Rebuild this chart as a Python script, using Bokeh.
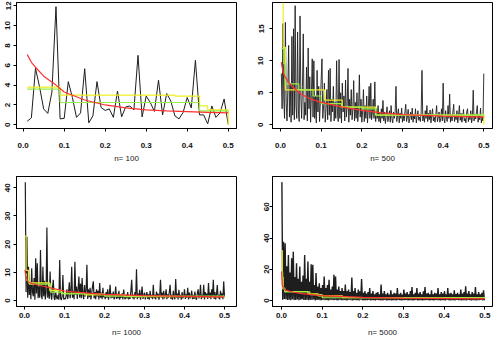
import numpy as np
from bokeh.plotting import figure
from bokeh.layouts import gridplot
from bokeh.models import FixedTicker, Range1d, BoxAnnotation
from bokeh.embed import file_html
from bokeh.resources import INLINE

# ---------------- data ----------------
panel_labels = ["n= 100", "n= 500", "n= 1000", "n= 5000"]
x_ticks = [0.0, 0.1, 0.2, 0.3, 0.4, 0.5]
x_tick_labels = ["0.0", "0.1", "0.2", "0.3", "0.4", "0.5"]
y_ticks_1 = [0, 2, 4, 6, 8, 10, 12]
y_ticks_2 = [0, 5, 10, 15]
y_ticks_3 = [0, 10, 20, 30, 40]
y_ticks_4 = [0, 20, 40, 60]

# n = 100 : periodogram at frequencies 0.01 .. 0.50
pgram_100 = [0.37, 0.7, 5.7, 3.8, 1.6, 1.15, 3.3, 11.9, 0.6, 0.65,
             4.35, 2.75, 0.75, 1.2, 5.65, 0.2, 0.9, 4.35, 1.75, 1.45,
             1.6, 0.75, 3.4, 0.8, 1.8, 1.9, 1.5, 7.0, 0.8, 2.9,
             2.25, 1.35, 4.5, 1.0, 3.15, 2.4, 0.9, 0.6, 1.25, 2.75,
             1.7, 6.5, 1.0, 1.0, 0.1, 1.9, 0.75, 1.2, 2.6, 0.05]
red_f_1 = [0.01, 0.02, 0.03, 0.05, 0.08, 0.10, 0.15, 0.20, 0.25, 0.30, 0.35, 0.40, 0.45, 0.50]
red_v_1 = [7.07, 6.3, 5.8, 4.9, 4.0, 3.3, 2.5, 2.0, 1.7, 1.5, 1.4, 1.33, 1.26, 1.2]
yel_f_1 = [0.01, 0.09, 0.37, 0.43, 0.45, 0.50]
yel_v_1 = [3.8, 3.0, 2.9, 1.9, 1.5, 0.0]
grn_f_1 = [0.01, 0.09, 0.43, 0.50]
grn_v_1 = [3.6, 2.25, 1.4, 1.35]

# n = 500 : periodogram at frequencies 0.002 .. 0.500
pgram_500 = [
    8.0, 2.5, 15.8, 4.0, 1.0, 16.0, 3.5, 0.6, 5.5, 12.4,
    1.2, 6.5, 0.4, 13.8, 1.5, 15.0, 0.8, 18.6, 3.0, 1.0,
    14.5, 2.0, 0.5, 17.0, 4.5, 1.0, 6.0, 14.2, 0.8, 3.5,
    1.5, 9.0, 0.6, 12.0, 2.5, 7.5, 0.4, 5.0, 10.3, 1.2,
    10.0, 1.0, 4.5, 0.3, 8.5, 2.0, 6.0, 0.5, 3.5, 7.0,
    10.3, 1.0, 3.0, 6.5, 0.4, 2.5, 5.5, 0.8, 8.5, 1.5,
    8.8, 0.5, 4.0, 2.0, 6.0, 0.6, 3.5, 1.0, 10.0, 2.0,
    0.5, 10.2, 1.0, 5.0, 0.3, 6.5, 2.0, 4.5, 0.6, 7.0,
    1.2, 3.0, 8.8, 0.4, 4.0, 1.5, 5.5, 0.8, 2.5, 6.9,
    0.6, 3.5, 1.0, 5.0, 0.5, 2.5, 7.8, 1.2, 4.0, 0.4,
    2.0, 5.5, 0.5, 3.0, 1.0, 4.5, 0.3, 2.5, 6.0, 1.0,
    6.5, 0.8, 2.0, 4.0, 1.0, 6.7, 0.5, 2.5, 1.0, 3.0,
    0.5, 1.8, 0.3, 2.5, 1.0, 3.8, 0.6, 2.0, 0.2, 1.5,
    2.8, 0.5, 1.2, 2.2, 0.4, 3.0, 1.0, 0.3, 2.0, 1.0,
    2.0, 6.0, 0.5, 1.5, 2.5, 0.3, 1.8, 1.0, 2.6, 0.4,
    1.5, 0.6, 2.0, 3.2, 0.5, 1.2, 2.4, 0.3, 1.0, 2.0,
    0.8, 2.6, 0.4, 1.6, 0.9, 2.5, 0.3, 1.4, 2.2, 0.7,
    1.2, 0.5, 2.0, 8.5, 0.6, 1.5, 0.4, 2.2, 1.0, 3.0,
    0.5, 1.8, 0.8, 2.3, 0.3, 1.5, 2.5, 0.6, 1.2, 0.4,
    1.6, 3.0, 0.5, 1.2, 2.0, 0.4, 1.0, 2.5, 0.6, 6.5,
    1.0, 0.3, 2.2, 1.2, 0.5, 3.0, 1.0, 4.8, 0.4, 1.6,
    0.6, 2.0, 3.2, 0.5, 1.4, 0.8, 2.2, 0.3, 1.5, 3.0,
    0.7, 1.8, 0.4, 1.2, 2.4, 0.6, 1.0, 0.3, 2.0, 2.5,
    0.5, 1.5, 0.8, 2.2, 0.3, 1.2, 5.4, 0.6, 1.6, 0.9,
    2.0, 3.0, 0.4, 1.5, 0.8, 2.6, 0.3, 1.2, 0.6, 8.0]
red_f_2 = [0.002, 0.005, 0.01, 0.02, 0.03, 0.05, 0.075, 0.10, 0.15, 0.20, 0.25, 0.30, 0.40, 0.50]
red_v_2 = [9.8, 8.6, 7.6, 6.6, 5.9, 4.8, 4.0, 3.5, 2.8, 2.25, 1.85, 1.6, 1.35, 1.2]
yel_f_2 = [0.002, 0.0066, 0.012, 0.108, 0.152, 0.234, 0.50]
yel_v_2 = [22.0, 12.1, 5.45, 3.85, 2.75, 1.5, 0.0]
grn_f_2 = [0.002, 0.008, 0.012, 0.045, 0.08, 0.10, 0.15, 0.20, 0.235, 0.50]
grn_v_2 = [11.9, 9.5, 6.4, 5.45, 4.5, 3.3, 2.75, 2.5, 1.5, 1.4]

# n = 1000 : periodogram read every 0.002 in frequency
pgram_1000 = [
    42.0, 3.0, 22.6, 1.0, 12.0, 2.0, 6.0, 0.5, 11.5, 3.0,
    1.5, 8.0, 0.3, 15.0, 2.5, 13.2, 0.8, 5.0, 1.0, 17.9,
    2.0, 0.5, 12.0, 1.5, 7.0, 0.4, 3.0, 25.9, 1.0, 5.0,
    0.6, 10.3, 2.0, 0.3, 4.5, 7.4, 1.0, 0.2, 3.0, 1.2,
    0.5, 2.0, 0.3, 14.4, 1.0, 0.2, 1.5, 9.1, 0.4, 0.8,
    0.5, 1.5, 4.0, 0.6, 2.5, 6.5, 0.8, 3.0, 12.0, 1.0,
    3.5, 0.5, 13.8, 2.0, 5.0, 0.6, 4.0, 8.5, 1.0, 6.0,
    0.8, 8.0, 2.0, 0.5, 5.5, 1.5, 3.5, 12.7, 0.6, 4.0,
    1.2, 4.5, 0.4, 2.5, 5.0, 6.8, 0.8, 3.0, 0.5, 4.0,
    1.5, 3.5, 0.4, 6.2, 1.0, 2.8, 0.5, 4.5, 1.2, 2.0,
    0.5, 3.0, 1.0, 4.0, 0.3, 2.2, 5.6, 0.8, 2.5, 1.0,
    3.2, 0.4, 1.5, 5.0, 0.6, 2.4, 0.8, 3.5, 0.3, 2.0,
    1.0, 2.6, 0.4, 3.9, 1.2, 0.5, 2.0, 0.8, 3.0, 0.4,
    1.5, 0.6, 3.5, 7.4, 0.8, 2.0, 0.4, 3.0, 1.0, 11.1,
    0.5, 2.5, 1.0, 3.8, 0.3, 2.2, 5.0, 0.6, 1.5, 2.8,
    0.4, 1.8, 3.0, 0.6, 2.2, 0.3, 3.5, 1.0, 2.0, 0.5,
    5.6, 0.8, 2.0, 0.4, 3.2, 1.0, 2.5, 0.3, 1.5, 7.4,
    1.0, 2.8, 0.4, 3.5, 0.8, 1.6, 4.0, 0.5, 2.2, 1.0,
    3.0, 5.6, 0.6, 2.0, 0.3, 3.5, 1.2, 0.5, 7.6, 1.0,
    2.5, 0.4, 3.8, 1.0, 2.0, 0.3, 3.0, 0.8, 1.5, 4.0,
    0.6, 2.2, 1.0, 4.5, 0.4, 2.8, 0.8, 1.5, 3.5, 0.5,
    2.0, 0.6, 3.2, 1.0, 0.3, 2.5, 4.0, 0.8, 1.6, 5.6,
    0.5, 2.0, 1.0, 5.6, 0.4, 3.0, 1.2, 2.5, 0.6, 6.2,
    1.0, 2.8, 0.5, 4.0, 1.2, 7.4, 0.6, 3.0, 0.4, 2.2,
    5.5, 0.8, 2.0, 0.4, 3.5, 1.0, 2.6, 0.5, 6.8, 1.5]
red_f_3 = [0.001, 0.003, 0.006, 0.01, 0.02, 0.03, 0.05, 0.07, 0.10, 0.15, 0.20, 0.30, 0.40, 0.50]
red_v_3 = [10.9, 9.0, 7.5, 6.5, 6.0, 5.6, 5.0, 4.3, 3.4, 2.7, 2.2, 1.75, 1.5, 1.3]
yel_f_3 = [0.001, 0.004, 0.010, 0.063, 0.092, 0.15, 0.25, 0.50]
yel_v_3 = [22.9, 10.7, 6.3, 3.6, 2.6, 2.0, 1.4, 1.0]
grn_f_3 = [0.001, 0.005, 0.012, 0.065, 0.095, 0.20, 0.50]
grn_v_3 = [9.5, 7.2, 5.8, 3.0, 2.4, 1.6, 1.2]

# n = 5000 : periodogram maxima / minima read in bins of width 0.004
pgram_5000_hi = [
    75.8, 37.7, 36.6, 22.0, 29.2, 18.0, 27.0, 31.3, 15.0, 23.9,
    14.0, 21.8, 12.0, 16.0, 29.2, 14.0, 25.0, 12.0, 23.3, 22.9,
    10.0, 17.6, 9.0, 11.0, 8.0, 10.0, 15.4, 8.0, 10.0, 13.3,
    7.0, 9.0, 16.5, 15.4, 7.0, 9.0, 6.0, 8.0, 6.0, 10.2,
    6.0, 7.0, 5.5, 14.8, 6.0, 8.0, 5.0, 7.0, 6.0, 13.8,
    5.0, 6.0, 4.5, 5.5, 8.0, 4.5, 6.0, 4.0, 5.0, 5.5,
    4.0, 10.2, 4.5, 6.0, 4.0, 5.0, 3.8, 6.5, 4.0, 5.0,
    4.5, 8.0, 4.0, 5.0, 3.8, 7.0, 4.5, 5.5, 4.0, 6.0,
    8.7, 4.0, 5.0, 8.0, 4.5, 5.5, 4.0, 6.0, 8.7, 4.5,
    5.0, 4.0, 6.5, 4.0, 5.0, 4.5, 8.0, 4.0, 5.5, 4.5,
    6.0, 4.0, 8.0, 4.5, 5.0, 4.0, 6.5, 4.2, 5.0, 4.0,
    7.0, 4.5, 5.5, 9.1, 4.5, 6.0, 4.0, 5.5, 4.5, 8.7,
    4.0, 5.5, 4.0, 5.0, 6.6]
pgram_5000_lo = [
    0.5, 1.0, 0.8, 0.3, 0.6, 0.2, 0.9, 0.4, 0.3, 0.7,
    0.2, 0.5, 0.8, 0.3, 0.4, 0.6, 0.2, 0.5, 0.3, 0.7,
    0.1, 0.4, 0.6, 0.2, 0.3, 0.5, 0.2, 0.4, 0.1, 0.3,
    0.5, 0.2, 0.4, 0.3, 0.1, 0.6, 0.2, 0.3, 0.4, 0.1,
    0.3, 0.5, 0.2, 0.1, 0.4, 0.2, 0.3, 0.1, 0.5, 0.2,
    0.1, 0.3, 0.2, 0.4, 0.1, 0.3, 0.2, 0.1, 0.4, 0.2,
    0.3, 0.1, 0.2, 0.4, 0.1, 0.3, 0.2, 0.1, 0.3, 0.2,
    0.1, 0.4, 0.2, 0.1, 0.3, 0.2, 0.4, 0.1, 0.2, 0.3,
    0.1, 0.2, 0.4, 0.1, 0.3, 0.2, 0.1, 0.3, 0.2, 0.4,
    0.1, 0.3, 0.2, 0.1, 0.4, 0.2, 0.3, 0.1, 0.2, 0.3,
    0.1, 0.4, 0.2, 0.1, 0.3, 0.2, 0.1, 0.4, 0.2, 0.3,
    0.1, 0.2, 0.3, 0.1, 0.4, 0.2, 0.1, 0.3, 0.2, 0.1,
    0.3, 0.2, 0.4, 0.1, 0.2]
red_f_4 = [0.0002, 0.002, 0.005, 0.01, 0.03, 0.05, 0.10, 0.20, 0.30, 0.50]
red_v_4 = [18.6, 10.0, 8.0, 6.6, 5.3, 4.4, 3.2, 2.1, 1.5, 1.1]
yel_f_4 = [0.0002, 0.002, 0.004, 0.008, 0.065, 0.09, 0.15, 0.50]
yel_v_4 = [32.0, 15.0, 8.0, 5.8, 4.3, 3.0, 1.8, 1.5]
grn_f_4 = [0.0002, 0.003, 0.008, 0.07, 0.10, 0.50]
grn_v_4 = [18.0, 7.5, 5.5, 3.8, 1.8, 1.5]

# ---------------- styling ----------------
BLACK = "#1e1e1e"
RED = "#ff3030"
YELLOW = "#eeee22"
GREEN = "#99ee44"
FONT = "Liberation Sans"


def make_panel(width, height, borders, xr, yr, yticks, label,
               tick_standoff, label_standoff, y_standoff):
    mbl, mbr, mbt, mbb = borders
    p = figure(width=width, height=height, x_range=Range1d(*xr), y_range=Range1d(*yr),
               output_backend="svg", toolbar_location=None,
               min_border_left=mbl, min_border_right=mbr,
               min_border_top=mbt, min_border_bottom=mbb)
    p.outline_line_color = "black"
    p.outline_line_width = 1
    p.grid.visible = False
    p.background_fill_color = "white"
    p.border_fill_color = "white"
    p.add_layout(BoxAnnotation(fill_alpha=0, line_color="black", line_width=1,
                               line_alpha=1, level="overlay"))
    p.xaxis.ticker = FixedTicker(ticks=x_ticks)
    p.xaxis.major_label_overrides = dict(zip(x_ticks, x_tick_labels))
    p.yaxis.ticker = FixedTicker(ticks=yticks)
    p.yaxis.major_label_orientation = "vertical"
    for ax in (p.xaxis[0], p.yaxis[0]):
        ax.major_tick_out = 3
        ax.major_tick_in = 0
        ax.minor_tick_out = 0
        ax.minor_tick_in = 0
        ax.major_tick_line_color = "black"
        ax.axis_line_color = "black"
        ax.major_label_text_font = FONT
        ax.major_label_text_font_size = "8px"
        ax.major_label_text_font_style = "bold"
        ax.major_label_text_color = "#111111"
    p.yaxis.major_label_standoff = y_standoff
    p.xaxis.major_label_standoff = tick_standoff
    p.xaxis.axis_label = label
    p.xaxis.axis_label_text_font = FONT
    p.xaxis.axis_label_text_font_size = "8px"
    p.xaxis.axis_label_text_font_style = "normal"
    p.xaxis.axis_label_text_color = "#222222"
    p.xaxis.axis_label_standoff = label_standoff
    return p


def add_curves(p, fx, fy, rf, rv, yf, yv, gf, gv, black_width=1.0):
    p.line(fx, fy, line_color=BLACK, line_width=black_width)
    p.step(yf, yv, mode="after", line_color=YELLOW, line_width=1.2)
    p.step(gf, gv, mode="after", line_color=GREEN, line_width=1.2)
    p.line(rf, rv, line_color=RED, line_width=1.2)


TOP_H, BOT_H = 170, 169
LEFT_W, RIGHT_W = 245, 248

# panel 1 : n = 100
p1 = make_panel(LEFT_W, TOP_H, (16, 9, 2, 42), (-0.0163, 0.5202), (-0.37, 12.32),
                y_ticks_1, panel_labels[0], 11, 3, 3)
f1 = np.arange(1, len(pgram_100) + 1) / 100.0
add_curves(p1, f1, pgram_100, red_f_1, red_v_1, yel_f_1, yel_v_1, grn_f_1, grn_v_1)

# panel 2 : n = 500
p2 = make_panel(RIGHT_W, TOP_H, (27, 1, 2, 42), (-0.0197, 0.5214), (-0.58, 19.1),
                y_ticks_2, panel_labels[1], 11, 3, 6)
f2 = np.arange(1, len(pgram_500) + 1) / 500.0
add_curves(p2, f2, pgram_500, red_f_2, red_v_2, yel_f_2, yel_v_2, grn_f_2, grn_v_2,
           black_width=0.9)

# panel 3 : n = 1000
p3 = make_panel(LEFT_W, BOT_H, (16, 9, 6, 32), (-0.02, 0.53), (-2.1, 44.0),
                y_ticks_3, panel_labels[2], 3, 7, 3)
f3 = np.arange(1, len(pgram_1000) + 1) * 0.002
add_curves(p3, f3, pgram_1000, red_f_3, red_v_3, yel_f_3, yel_v_3, grn_f_3, grn_v_3,
           black_width=1.2)

# panel 4 : n = 5000
p4 = make_panel(RIGHT_W, BOT_H, (27, 1, 6, 32), (-0.0221, 0.519), (-3.8, 79.4),
                y_ticks_4, panel_labels[3], 3, 7, 1)
bins4 = np.arange(len(pgram_5000_hi)) * 0.004
f4 = np.empty(2 * len(bins4))
f4[0::2] = bins4 + 0.001
f4[1::2] = bins4 + 0.003
v4 = np.empty(2 * len(bins4))
v4[0::2] = pgram_5000_hi
v4[1::2] = pgram_5000_lo
add_curves(p4, f4, v4, red_f_4, red_v_4, yel_f_4, yel_v_4, grn_f_4, grn_v_4, black_width=1.4)

grid = gridplot([[p1, p2], [p3, p4]], toolbar_location=None)

open("out.html", "w").write(file_html(grid, INLINE))
